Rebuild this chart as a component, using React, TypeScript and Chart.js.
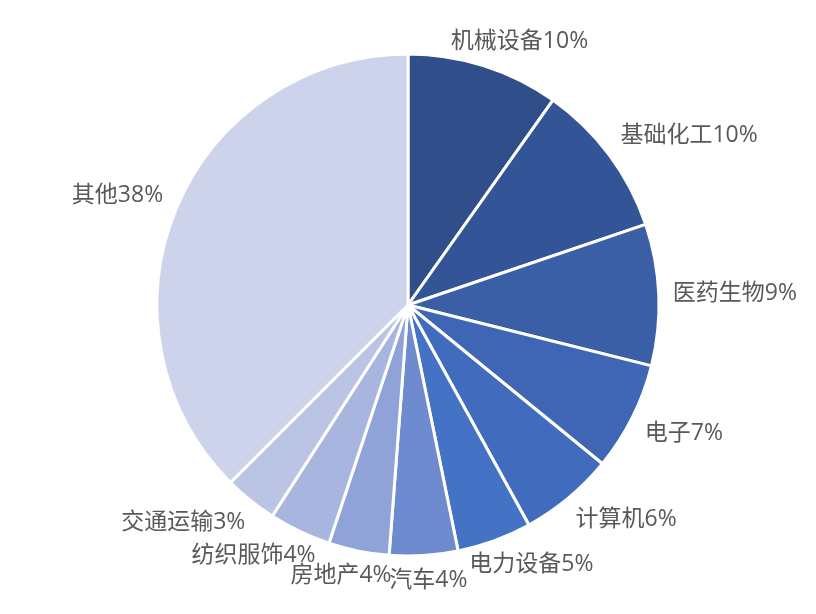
import React, { useEffect, useRef } from "react";
import { Chart, registerables } from "chart.js";

Chart.register(...registerables);

const categories = ["机械设备", "基础化工", "医药生物", "电子", "计算机", "电力设备", "汽车", "房地产", "纺织服饰", "交通运输", "其他"];
const shares = [9.8, 10.0, 9.1, 7.0, 6.1, 4.8, 4.4, 3.9, 4.0, 3.4, 37.5];
const sliceColors = ["#2F4E8A", "#335597", "#3A5FA6", "#3E66B4", "#416CBD", "#4472C4", "#6F8BCF", "#8FA3D8", "#A8B5DF", "#BBC4E5", "#CDD3EB"];

const FONT = '23px "Open Sans", "Noto Sans CJK SC", sans-serif';

const outsideLabels = {
  id: "outsideLabels",
  afterDatasetsDraw(chart: any) {
    const ctx = chart.ctx;
    const meta = chart.getDatasetMeta(0);
    const data = chart.data.datasets[0].data as number[];
    const total = data.reduce((a: number, b: number) => a + b, 0);
    ctx.save();
    ctx.font = FONT;
    ctx.fillStyle = "#595959";
    ctx.textAlign = "center";
    ctx.textBaseline = "middle";
    const clamp = (v: number) => Math.max(-1, Math.min(1, v));
    meta.data.forEach((arc: any, i: number) => {
      const { x, y, startAngle, endAngle, outerRadius } = arc.getProps(["x", "y", "startAngle", "endAngle", "outerRadius"], true);
      const mid = (startAngle + endAngle) / 2;
      const dx = Math.cos(mid);
      const dy = Math.sin(mid);
      const text = chart.data.labels[i] + Math.round((data[i] / total) * 100) + "%";
      const w = ctx.measureText(text).width;
      const h = 22;
      const d = 14;
      const cx = x + dx * (outerRadius + d) + (w / 2) * clamp(1.5 * dx);
      const cy = y + dy * (outerRadius + d) + (h / 2) * clamp(2 * dy);
      ctx.fillText(text, cx, cy);
    });
    ctx.restore();
  },
};

export default function App() {
  const ref = useRef<HTMLCanvasElement>(null);
  useEffect(() => {
    if (!ref.current) return;
    const chart = new Chart(ref.current, {
      type: "pie",
      data: {
        labels: categories,
        datasets: [
          {
            data: shares,
            backgroundColor: sliceColors,
            borderColor: "#ffffff",
            borderWidth: 3,
            hoverOffset: 0,
          },
        ],
      },
      options: {
        animation: false,
        responsive: false,
        maintainAspectRatio: false,
        radius: 251,
        layout: { padding: { left: 153, right: 153, top: 50, bottom: 54 } },
        plugins: {
          legend: { display: false },
          tooltip: { enabled: false },
        },
      },
      plugins: [outsideLabels],
    });
    return () => chart.destroy();
  }, []);
  return (
    <div style={{ position: "fixed", left: 0, top: 0, width: 816, height: 614, background: "#fff" }}>
      <canvas ref={ref} width={816} height={614} style={{ width: 816, height: 614 }} />
    </div>
  );
}
